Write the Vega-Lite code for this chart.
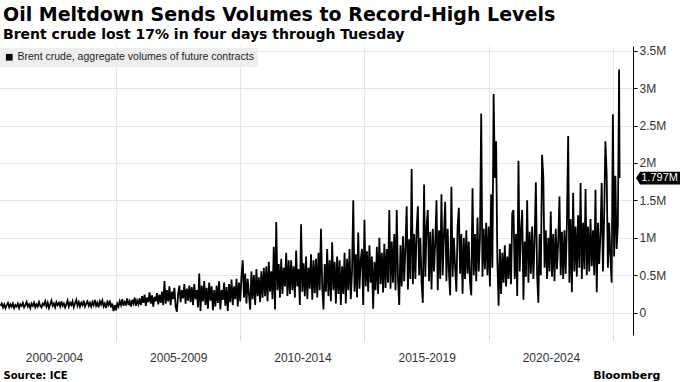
{
"$schema":"https://vega.github.io/schema/vega-lite/v6.json",
"width":633,"height":289,
"autosize":{"type":"none"},
"padding":{"left":0,"top":46,"right":47,"bottom":47},
"background":"white",
"title":{"text":"Oil Meltdown Sends Volumes to Record-High Levels","subtitle":"Brent crude lost 17% in four days through Tuesday","anchor":"start","frame":"group","dx":3,"offset":3,"font":"DejaVu Sans","fontSize":19,"fontWeight":"bold","color":"#000","subtitleFont":"DejaVu Sans","subtitleFontSize":14,"subtitleFontWeight":"bold","subtitleColor":"#000","subtitlePadding":3},
"config":{"view":{"stroke":null}},
"data":{"values":[
{"t":2000.35,"v":0.09},{"t":2000.40,"v":0.12},{"t":2000.45,"v":0.07},{"t":2000.50,"v":0.11},{"t":2000.55,"v":0.06},{"t":2000.60,"v":0.10},{"t":2000.65,"v":0.13},{"t":2000.70,"v":0.07},{"t":2000.75,"v":0.11},{"t":2000.80,"v":0.08},{"t":2000.85,"v":0.12},{"t":2000.90,"v":0.06},{"t":2000.95,"v":0.10},
{"t":2001.00,"v":0.08},{"t":2001.05,"v":0.12},{"t":2001.10,"v":0.06},{"t":2001.15,"v":0.11},{"t":2001.20,"v":0.09},{"t":2001.25,"v":0.13},{"t":2001.30,"v":0.07},{"t":2001.35,"v":0.10},{"t":2001.40,"v":0.14},{"t":2001.45,"v":0.08},{"t":2001.50,"v":0.11},{"t":2001.55,"v":0.06},{"t":2001.60,"v":0.12},{"t":2001.65,"v":0.09},{"t":2001.70,"v":0.13},{"t":2001.75,"v":0.07},{"t":2001.80,"v":0.11},{"t":2001.85,"v":0.08},{"t":2001.90,"v":0.14},{"t":2001.95,"v":0.09},
{"t":2002.00,"v":0.07},{"t":2002.05,"v":0.12},{"t":2002.10,"v":0.10},{"t":2002.15,"v":0.15},{"t":2002.20,"v":0.08},{"t":2002.25,"v":0.13},{"t":2002.30,"v":0.06},{"t":2002.35,"v":0.11},{"t":2002.40,"v":0.16},{"t":2002.45,"v":0.09},{"t":2002.50,"v":0.12},{"t":2002.55,"v":0.07},{"t":2002.60,"v":0.14},{"t":2002.65,"v":0.10},{"t":2002.70,"v":0.13},{"t":2002.75,"v":0.08},{"t":2002.80,"v":0.15},{"t":2002.85,"v":0.09},{"t":2002.90,"v":0.12},{"t":2002.95,"v":0.07},
{"t":2003.00,"v":0.11},{"t":2003.05,"v":0.16},{"t":2003.10,"v":0.08},{"t":2003.15,"v":0.13},{"t":2003.20,"v":0.10},{"t":2003.25,"v":0.15},{"t":2003.30,"v":0.07},{"t":2003.35,"v":0.12},{"t":2003.40,"v":0.17},{"t":2003.45,"v":0.09},{"t":2003.50,"v":0.14},{"t":2003.55,"v":0.08},{"t":2003.60,"v":0.13},{"t":2003.65,"v":0.10},{"t":2003.70,"v":0.16},{"t":2003.75,"v":0.08},{"t":2003.80,"v":0.12},{"t":2003.85,"v":0.15},{"t":2003.90,"v":0.09},{"t":2003.95,"v":0.13},
{"t":2004.00,"v":0.08},{"t":2004.05,"v":0.14},{"t":2004.10,"v":0.10},{"t":2004.15,"v":0.17},{"t":2004.20,"v":0.09},{"t":2004.25,"v":0.13},{"t":2004.30,"v":0.07},{"t":2004.35,"v":0.15},{"t":2004.40,"v":0.11},{"t":2004.45,"v":0.16},{"t":2004.50,"v":0.08},{"t":2004.55,"v":0.12},{"t":2004.60,"v":0.06},{"t":2004.65,"v":0.14},{"t":2004.70,"v":0.10},{"t":2004.75,"v":0.16},{"t":2004.80,"v":0.07},{"t":2004.85,"v":0.12},{"t":2004.90,"v":0.02},{"t":2004.95,"v":0.10},
{"t":2005.00,"v":0.03},{"t":2005.05,"v":0.12},{"t":2005.10,"v":0.08},{"t":2005.15,"v":0.15},{"t":2005.20,"v":0.10},{"t":2005.25,"v":0.18},{"t":2005.30,"v":0.09},{"t":2005.35,"v":0.14},{"t":2005.40,"v":0.11},{"t":2005.45,"v":0.19},{"t":2005.50,"v":0.10},{"t":2005.55,"v":0.15},{"t":2005.60,"v":0.08},{"t":2005.65,"v":0.17},{"t":2005.70,"v":0.12},{"t":2005.75,"v":0.20},{"t":2005.80,"v":0.09},{"t":2005.85,"v":0.16},{"t":2005.90,"v":0.11},{"t":2005.95,"v":0.19},
{"t":2006.00,"v":0.10},{"t":2006.05,"v":0.22},{"t":2006.10,"v":0.13},{"t":2006.15,"v":0.24},{"t":2006.20,"v":0.09},{"t":2006.25,"v":0.20},{"t":2006.30,"v":0.14},{"t":2006.35,"v":0.27},{"t":2006.40,"v":0.12},{"t":2006.45,"v":0.23},{"t":2006.50,"v":0.08},{"t":2006.55,"v":0.21},{"t":2006.60,"v":0.15},{"t":2006.65,"v":0.26},{"t":2006.70,"v":0.11},{"t":2006.75,"v":0.24},{"t":2006.80,"v":0.13},{"t":2006.85,"v":0.28},{"t":2006.90,"v":0.10},{"t":2006.95,"v":0.42},
{"t":2007.00,"v":0.12},{"t":2007.05,"v":0.30},{"t":2007.10,"v":0.15},{"t":2007.15,"v":0.35},{"t":2007.20,"v":0.10},{"t":2007.25,"v":0.28},{"t":2007.30,"v":0.18},{"t":2007.35,"v":0.33},{"t":2007.40,"v":0.08},{"t":2007.45,"v":0.01},{"t":2007.50,"v":0.25},{"t":2007.55,"v":0.36},{"t":2007.60,"v":0.14},{"t":2007.65,"v":0.30},{"t":2007.70,"v":0.19},{"t":2007.75,"v":0.38},{"t":2007.80,"v":0.12},{"t":2007.85,"v":0.32},{"t":2007.90,"v":0.16},{"t":2007.95,"v":0.36},
{"t":2008.00,"v":0.14},{"t":2008.05,"v":0.34},{"t":2008.10,"v":0.10},{"t":2008.15,"v":0.38},{"t":2008.20,"v":0.18},{"t":2008.25,"v":0.30},{"t":2008.30,"v":0.07},{"t":2008.35,"v":0.52},{"t":2008.40,"v":0.02},{"t":2008.45,"v":0.36},{"t":2008.50,"v":0.15},{"t":2008.55,"v":0.42},{"t":2008.60,"v":0.10},{"t":2008.65,"v":0.33},{"t":2008.70,"v":0.05},{"t":2008.75,"v":0.40},{"t":2008.80,"v":0.16},{"t":2008.85,"v":0.35},{"t":2008.90,"v":0.03},{"t":2008.95,"v":0.30},
{"t":2009.00,"v":0.08},{"t":2009.05,"v":0.36},{"t":2009.10,"v":0.13},{"t":2009.15,"v":0.42},{"t":2009.20,"v":0.04},{"t":2009.25,"v":0.30},{"t":2009.30,"v":0.17},{"t":2009.35,"v":0.40},{"t":2009.40,"v":0.09},{"t":2009.45,"v":0.34},{"t":2009.50,"v":0.02},{"t":2009.55,"v":0.38},{"t":2009.60,"v":0.14},{"t":2009.65,"v":0.44},{"t":2009.70,"v":0.10},{"t":2009.75,"v":0.35},{"t":2009.80,"v":0.18},{"t":2009.85,"v":0.45},{"t":2009.90,"v":0.08},{"t":2009.95,"v":0.40},
{"t":2010.00,"v":0.15},{"t":2010.05,"v":0.48},{"t":2010.10,"v":0.70},{"t":2010.15,"v":0.20},{"t":2010.20,"v":0.52},{"t":2010.25,"v":0.12},{"t":2010.30,"v":0.45},{"t":2010.35,"v":0.25},{"t":2010.40,"v":0.04},{"t":2010.45,"v":0.55},{"t":2010.50,"v":0.18},{"t":2010.55,"v":0.50},{"t":2010.60,"v":0.10},{"t":2010.65,"v":0.58},{"t":2010.70,"v":0.22},{"t":2010.75,"v":0.47},{"t":2010.80,"v":0.14},{"t":2010.85,"v":0.55},{"t":2010.90,"v":0.20},{"t":2010.95,"v":0.60},
{"t":2011.00,"v":0.22},{"t":2011.05,"v":0.62},{"t":2011.10,"v":0.15},{"t":2011.15,"v":0.68},{"t":2011.20,"v":0.28},{"t":2011.25,"v":0.55},{"t":2011.30,"v":0.18},{"t":2011.35,"v":0.88},{"t":2011.40,"v":0.04},{"t":2011.45,"v":1.21},{"t":2011.50,"v":0.30},{"t":2011.55,"v":0.65},{"t":2011.60,"v":0.20},{"t":2011.65,"v":0.72},{"t":2011.70,"v":0.25},{"t":2011.75,"v":0.60},{"t":2011.80,"v":0.35},{"t":2011.85,"v":0.80},{"t":2011.90,"v":0.22},{"t":2011.95,"v":0.70},
{"t":2012.00,"v":0.25},{"t":2012.05,"v":0.70},{"t":2012.10,"v":0.30},{"t":2012.15,"v":0.62},{"t":2012.20,"v":0.20},{"t":2012.25,"v":0.83},{"t":2012.30,"v":0.35},{"t":2012.35,"v":0.58},{"t":2012.40,"v":0.10},{"t":2012.45,"v":1.18},{"t":2012.50,"v":0.28},{"t":2012.55,"v":0.66},{"t":2012.60,"v":0.22},{"t":2012.65,"v":0.75},{"t":2012.70,"v":0.18},{"t":2012.75,"v":0.60},{"t":2012.80,"v":0.32},{"t":2012.85,"v":0.78},{"t":2012.90,"v":0.17},{"t":2012.95,"v":0.70},
{"t":2013.00,"v":0.26},{"t":2013.05,"v":0.72},{"t":2013.10,"v":0.20},{"t":2013.15,"v":0.80},{"t":2013.20,"v":0.30},{"t":2013.25,"v":1.12},{"t":2013.30,"v":0.35},{"t":2013.35,"v":0.04},{"t":2013.40,"v":0.65},{"t":2013.45,"v":0.28},{"t":2013.50,"v":0.85},{"t":2013.55,"v":0.22},{"t":2013.60,"v":0.70},{"t":2013.65,"v":0.15},{"t":2013.70,"v":0.94},{"t":2013.75,"v":0.30},{"t":2013.80,"v":0.68},{"t":2013.85,"v":0.12},{"t":2013.90,"v":0.75},{"t":2013.95,"v":0.25},
{"t":2014.00,"v":0.70},{"t":2014.05,"v":0.10},{"t":2014.10,"v":0.62},{"t":2014.15,"v":0.25},{"t":2014.20,"v":0.80},{"t":2014.25,"v":0.12},{"t":2014.30,"v":0.72},{"t":2014.35,"v":0.30},{"t":2014.40,"v":0.85},{"t":2014.45,"v":0.18},{"t":2014.50,"v":0.55},{"t":2014.55,"v":1.50},{"t":2014.60,"v":0.28},{"t":2014.65,"v":0.78},{"t":2014.70,"v":0.20},{"t":2014.75,"v":1.07},{"t":2014.80,"v":0.32},{"t":2014.85,"v":0.70},{"t":2014.90,"v":0.85},{"t":2014.95,"v":0.10},
{"t":2015.00,"v":1.24},{"t":2015.05,"v":0.35},{"t":2015.10,"v":0.82},{"t":2015.15,"v":0.28},{"t":2015.20,"v":0.90},{"t":2015.25,"v":0.40},{"t":2015.30,"v":0.75},{"t":2015.35,"v":0.05},{"t":2015.40,"v":0.68},{"t":2015.45,"v":0.30},{"t":2015.50,"v":0.88},{"t":2015.55,"v":0.25},{"t":2015.60,"v":1.00},{"t":2015.65,"v":0.38},{"t":2015.70,"v":0.80},{"t":2015.75,"v":0.27},{"t":2015.80,"v":0.92},{"t":2015.85,"v":0.33},{"t":2015.90,"v":0.85},{"t":2015.95,"v":0.40},
{"t":2016.00,"v":1.37},{"t":2016.05,"v":0.32},{"t":2016.10,"v":0.95},{"t":2016.15,"v":0.40},{"t":2016.20,"v":1.05},{"t":2016.25,"v":0.30},{"t":2016.30,"v":1.37},{"t":2016.35,"v":0.45},{"t":2016.40,"v":0.10},{"t":2016.45,"v":0.90},{"t":2016.50,"v":0.35},{"t":2016.55,"v":1.02},{"t":2016.60,"v":0.42},{"t":2016.65,"v":0.88},{"t":2016.70,"v":1.42},{"t":2016.75,"v":0.31},{"t":2016.80,"v":0.98},{"t":2016.85,"v":0.45},{"t":2016.90,"v":1.92},{"t":2016.95,"v":0.38},
{"t":2017.00,"v":1.05},{"t":2017.05,"v":0.45},{"t":2017.10,"v":1.10},{"t":2017.15,"v":1.42},{"t":2017.20,"v":0.50},{"t":2017.25,"v":1.00},{"t":2017.30,"v":0.40},{"t":2017.35,"v":0.13},{"t":2017.40,"v":1.71},{"t":2017.45,"v":0.48},{"t":2017.50,"v":1.15},{"t":2017.55,"v":1.37},{"t":2017.60,"v":0.42},{"t":2017.65,"v":1.08},{"t":2017.70,"v":0.31},{"t":2017.75,"v":1.12},{"t":2017.80,"v":0.55},{"t":2017.85,"v":0.95},{"t":2017.90,"v":1.50},{"t":2017.95,"v":0.30},
{"t":2018.00,"v":1.10},{"t":2018.05,"v":0.45},{"t":2018.10,"v":1.58},{"t":2018.15,"v":0.50},{"t":2018.20,"v":1.05},{"t":2018.25,"v":1.48},{"t":2018.30,"v":0.42},{"t":2018.35,"v":1.12},{"t":2018.40,"v":0.55},{"t":2018.45,"v":0.23},{"t":2018.50,"v":1.68},{"t":2018.55,"v":0.48},{"t":2018.60,"v":1.00},{"t":2018.65,"v":0.60},{"t":2018.70,"v":0.28},{"t":2018.75,"v":1.15},{"t":2018.80,"v":1.40},{"t":2018.85,"v":0.52},{"t":2018.90,"v":1.05},{"t":2018.95,"v":0.25},
{"t":2019.00,"v":1.00},{"t":2019.05,"v":0.45},{"t":2019.10,"v":1.10},{"t":2019.15,"v":0.52},{"t":2019.20,"v":0.95},{"t":2019.25,"v":0.40},{"t":2019.30,"v":0.23},{"t":2019.35,"v":1.66},{"t":2019.40,"v":0.50},{"t":2019.45,"v":1.05},{"t":2019.50,"v":0.42},{"t":2019.55,"v":1.27},{"t":2019.60,"v":0.55},{"t":2019.65,"v":1.00},{"t":2019.70,"v":2.66},{"t":2019.75,"v":0.48},{"t":2019.80,"v":1.12},{"t":2019.85,"v":0.58},{"t":2019.90,"v":1.20},{"t":2019.95,"v":0.50},
{"t":2020.00,"v":1.15},{"t":2020.05,"v":0.35},{"t":2020.10,"v":1.58},{"t":2020.15,"v":0.60},{"t":2020.20,"v":2.92},{"t":2020.25,"v":1.80},{"t":2020.30,"v":2.29},{"t":2020.35,"v":0.70},{"t":2020.40,"v":0.09},{"t":2020.45,"v":0.85},{"t":2020.50,"v":0.25},{"t":2020.55,"v":0.80},{"t":2020.60,"v":0.40},{"t":2020.65,"v":0.90},{"t":2020.70,"v":0.35},{"t":2020.75,"v":0.75},{"t":2020.80,"v":0.45},{"t":2020.85,"v":0.92},{"t":2020.90,"v":0.38},{"t":2020.95,"v":1.33},
{"t":2021.00,"v":1.37},{"t":2021.05,"v":0.45},{"t":2021.10,"v":1.05},{"t":2021.15,"v":0.22},{"t":2021.20,"v":2.03},{"t":2021.25,"v":0.55},{"t":2021.30,"v":1.10},{"t":2021.35,"v":1.37},{"t":2021.40,"v":0.17},{"t":2021.45,"v":0.95},{"t":2021.50,"v":0.48},{"t":2021.55,"v":1.50},{"t":2021.60,"v":0.40},{"t":2021.65,"v":1.08},{"t":2021.70,"v":0.52},{"t":2021.75,"v":1.15},{"t":2021.80,"v":0.45},{"t":2021.85,"v":0.98},{"t":2021.90,"v":1.74},{"t":2021.95,"v":0.50},
{"t":2022.00,"v":0.13},{"t":2022.05,"v":1.05},{"t":2022.10,"v":0.50},{"t":2022.15,"v":2.11},{"t":2022.20,"v":1.81},{"t":2022.25,"v":0.60},{"t":2022.30,"v":1.10},{"t":2022.35,"v":0.45},{"t":2022.40,"v":1.00},{"t":2022.45,"v":0.55},{"t":2022.50,"v":1.35},{"t":2022.55,"v":0.48},{"t":2022.60,"v":1.05},{"t":2022.65,"v":0.42},{"t":2022.70,"v":1.12},{"t":2022.75,"v":0.58},{"t":2022.80,"v":0.95},{"t":2022.85,"v":1.55},{"t":2022.90,"v":0.50},{"t":2022.95,"v":1.08},
{"t":2023.00,"v":0.45},{"t":2023.05,"v":1.10},{"t":2023.10,"v":0.52},{"t":2023.15,"v":1.20},{"t":2023.20,"v":2.36},{"t":2023.25,"v":0.40},{"t":2023.30,"v":1.25},{"t":2023.35,"v":0.27},{"t":2023.40,"v":1.60},{"t":2023.45,"v":0.55},{"t":2023.50,"v":1.15},{"t":2023.55,"v":0.48},{"t":2023.60,"v":1.30},{"t":2023.65,"v":0.60},{"t":2023.70,"v":1.73},{"t":2023.75,"v":0.45},{"t":2023.80,"v":1.20},{"t":2023.85,"v":0.58},{"t":2023.90,"v":1.65},{"t":2023.95,"v":0.50},
{"t":2024.00,"v":1.15},{"t":2024.05,"v":0.55},{"t":2024.10,"v":1.25},{"t":2024.15,"v":0.62},{"t":2024.20,"v":1.10},{"t":2024.25,"v":0.50},{"t":2024.30,"v":1.64},{"t":2024.35,"v":0.27},{"t":2024.40,"v":1.20},{"t":2024.45,"v":0.65},{"t":2024.50,"v":1.05},{"t":2024.55,"v":1.73},{"t":2024.60,"v":0.55},{"t":2024.65,"v":1.30},{"t":2024.70,"v":2.29},{"t":2024.75,"v":1.85},{"t":2024.80,"v":0.60},{"t":2024.85,"v":1.20},{"t":2024.90,"v":0.75},{"t":2024.95,"v":0.40},
{"t":2025.00,"v":2.65},{"t":2025.05,"v":0.75},{"t":2025.10,"v":1.83},{"t":2025.15,"v":0.85},{"t":2025.20,"v":1.15},{"t":2025.25,"v":3.25},{"t":2025.27,"v":1.797}
]},
"layer":[
{"mark":{"type":"line","color":"#000","strokeWidth":1.8},
 "encoding":{
  "x":{"field":"t","type":"quantitative","scale":{"domain":[2000.33,2025.81],"nice":false,"zero":false},
   "axis":{"values":[2005,2010,2015,2020,2025],"labelExpr":"(datum.value-5) + '-' + (datum.value-1)","labelOffset":-62,"grid":true,"gridColor":"#e6e6e6","domain":false,"ticks":true,"tickColor":"#d6d6d6","tickSize":5,"labelFont":"Liberation Sans","labelFontSize":12,"labelColor":"#333","labelPadding":12,"labelOverlap":false,"labelBound":false,"labelFlush":false,
    "title":"Source: ICE","titleAnchor":"start","titleAlign":"left","titleX":3,"titleY":43,"titleBaseline":"alphabetic","titleFont":"DejaVu Sans","titleFontSize":10,"titleFontWeight":"bold","titleColor":"#000"}},
  "y":{"field":"v","type":"quantitative","scale":{"domain":[-0.3,3.563],"nice":false,"zero":false},
   "axis":{"orient":"right","values":[0,0.5,1,1.5,2,2.5,3,3.5],"labelExpr":"datum.value == 0 ? '0' : datum.value + 'M'","grid":true,"gridColor":"#e6e6e6","domain":true,"domainColor":"#000","domainWidth":1,"tickColor":"#000","tickSize":4,"labelPadding":2,"labelFont":"Liberation Sans","labelFontSize":12,"labelColor":"#333",
    "title":"Bloomberg","titleAngle":0,"titleX":27,"titleY":332,"titleAlign":"right","titleBaseline":"alphabetic","titleFont":"DejaVu Sans","titleFontSize":11,"titleFontWeight":"bold","titleColor":"#000"}},
  "color":{"datum":"Brent crude, aggregate volumes of future contracts","scale":{"range":["#000000"]},
   "legend":{"orient":"none","legendX":0,"legendY":2,"title":null,"fillColor":"#eeeeee","padding":4,"labelFont":"Liberation Sans","labelFontSize":10.5,"labelColor":"#222","labelOffset":3,"labelLimit":0,"symbolType":"square","symbolSize":45,
    "encode":{"symbols":{"update":{"fill":{"value":"#000"},"stroke":{"value":"#000"},"strokeWidth":{"value":0}}}}}}
 }},
{"transform":[{"filter":"datum.t > 2025.26"}],
 "mark":{"type":"point","filled":true,"shape":"M1.65,0L2.05,-0.64L6.1,-0.64L6.1,0.64L2.05,0.64Z","size":400,"color":"#000","opacity":1},
 "encoding":{"x":{"field":"t","type":"quantitative"},"y":{"field":"v","type":"quantitative"}}},
{"transform":[{"filter":"datum.t > 2025.26"}],
 "mark":{"type":"text","dx":40,"color":"#fff","font":"Liberation Sans","fontSize":11,"baseline":"middle","align":"center","text":"1.797M"},
 "encoding":{"x":{"field":"t","type":"quantitative"},"y":{"field":"v","type":"quantitative"}}}
]
}
